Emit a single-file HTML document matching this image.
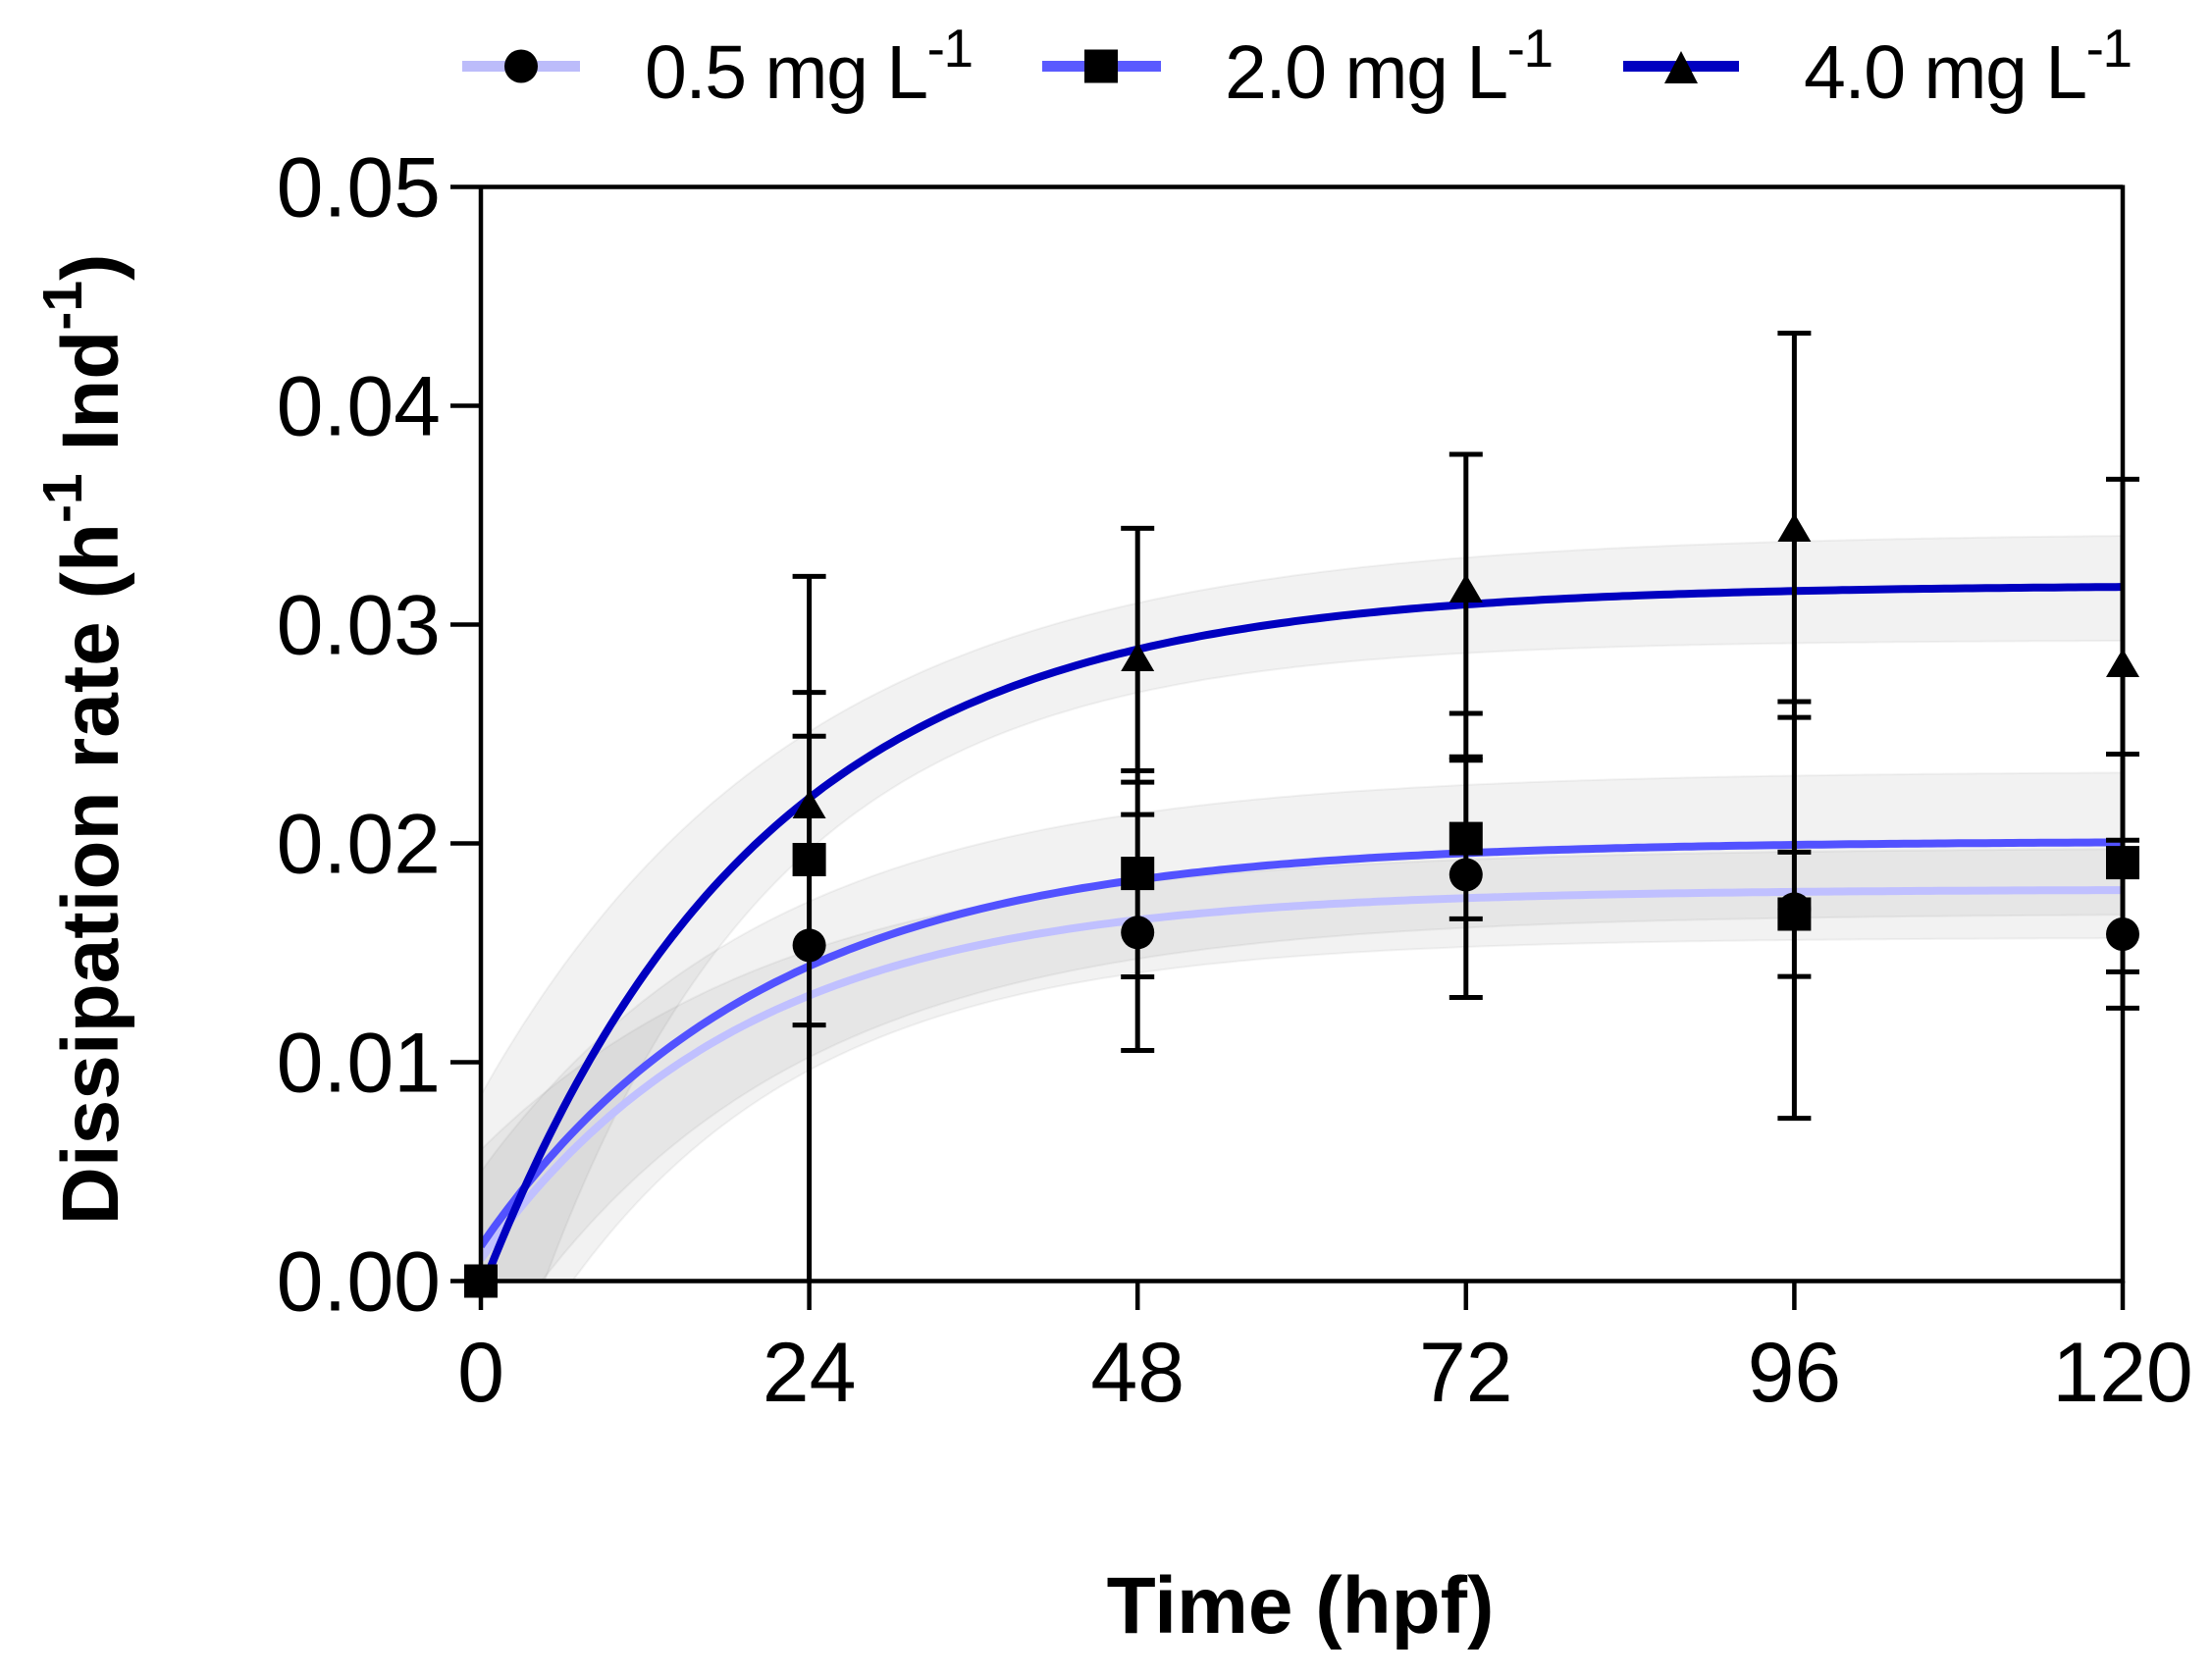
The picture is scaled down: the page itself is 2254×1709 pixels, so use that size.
<!DOCTYPE html>
<html>
<head>
<meta charset="utf-8">
<style>
  html, body { margin: 0; padding: 0; background: #ffffff; }
  svg { display: block; }
  text { font-family: "Liberation Sans", Arial, sans-serif; fill: #000; }
</style>
</head>
<body>
<svg id="chart" width="2254" height="1709" viewBox="0 0 2254 1709" xmlns="http://www.w3.org/2000/svg">
  <defs>
    <clipPath id="plotclip"><rect x="490" y="190" width="1673" height="1116"/></clipPath>
  </defs>
  <rect x="0" y="0" width="2254" height="1709" fill="#ffffff"/>

  <!-- bands and curves (generated) -->
  <g clip-path="url(#plotclip)">
    <path id="b05" fill="rgba(130,130,130,0.1)" stroke="rgba(120,120,120,0.09)" stroke-width="2"/>
    <path id="b20" fill="rgba(130,130,130,0.1)" stroke="rgba(120,120,120,0.09)" stroke-width="2"/>
    <path id="b40" fill="rgba(130,130,130,0.1)" stroke="rgba(120,120,120,0.09)" stroke-width="2"/>
    <path id="c05" fill="none" stroke="#c0c0ff" stroke-width="8"/>
    <path id="c20" fill="none" stroke="#5252ff" stroke-width="8"/>
    <path id="c40" fill="none" stroke="#0000c0" stroke-width="8"/>
  </g>

  <!-- axes frame -->
  <g stroke="#000" stroke-width="4.5" fill="none">
    <line x1="490" y1="190.5" x2="2163" y2="190.5"/>
    <line x1="2163" y1="188.5" x2="2163" y2="1307.5"/>
    <line x1="490" y1="188.5" x2="490" y2="1307.5"/>
    <line x1="459" y1="1305.5" x2="2165" y2="1305.5"/>
    <!-- y ticks -->
    <line x1="459" y1="190.5" x2="490" y2="190.5"/>
    <line x1="459" y1="413.5" x2="490" y2="413.5"/>
    <line x1="459" y1="636.5" x2="490" y2="636.5"/>
    <line x1="459" y1="859.5" x2="490" y2="859.5"/>
    <line x1="459" y1="1082.5" x2="490" y2="1082.5"/>
    <!-- x ticks -->
    <line x1="490" y1="1305.5" x2="490" y2="1335"/>
    <line x1="824.6" y1="1305.5" x2="824.6" y2="1335"/>
    <line x1="1159.2" y1="1305.5" x2="1159.2" y2="1335"/>
    <line x1="1493.8" y1="1305.5" x2="1493.8" y2="1335"/>
    <line x1="1828.4" y1="1305.5" x2="1828.4" y2="1335"/>
    <line x1="2163" y1="1305.5" x2="2163" y2="1335"/>
  </g>

  <!-- error bars -->
  <g stroke="#000" stroke-width="5" fill="none">
    <!-- t=24 -->
    <line x1="824.6" y1="587.4" x2="824.6" y2="1305.5"/>
    <line x1="807.6" y1="587.4" x2="841.6" y2="587.4"/>
    <line x1="807.6" y1="705.6" x2="841.6" y2="705.6"/>
    <line x1="807.6" y1="750.2" x2="841.6" y2="750.2"/>
    <line x1="807.6" y1="1044.6" x2="841.6" y2="1044.6"/>
    <!-- t=48 -->
    <line x1="1159.2" y1="538.4" x2="1159.2" y2="1070.5"/>
    <line x1="1142.2" y1="538.4" x2="1176.2" y2="538.4"/>
    <line x1="1142.2" y1="785.5" x2="1176.2" y2="785.5"/>
    <line x1="1142.2" y1="797.1" x2="1176.2" y2="797.1"/>
    <line x1="1142.2" y1="830.1" x2="1176.2" y2="830.1"/>
    <line x1="1142.2" y1="995.5" x2="1176.2" y2="995.5"/>
    <line x1="1142.2" y1="1070.5" x2="1176.2" y2="1070.5"/>
    <!-- t=72 -->
    <line x1="1493.8" y1="463" x2="1493.8" y2="1016.5"/>
    <line x1="1476.8" y1="463" x2="1510.8" y2="463"/>
    <line x1="1476.8" y1="727" x2="1510.8" y2="727"/>
    <line x1="1476.8" y1="771.2" x2="1510.8" y2="771.2"/>
    <line x1="1476.8" y1="774.8" x2="1510.8" y2="774.8"/>
    <line x1="1476.8" y1="936.4" x2="1510.8" y2="936.4"/>
    <line x1="1476.8" y1="1016.5" x2="1510.8" y2="1016.5"/>
    <!-- t=96 -->
    <line x1="1828.4" y1="339.5" x2="1828.4" y2="1139.6"/>
    <line x1="1811.4" y1="339.5" x2="1845.4" y2="339.5"/>
    <line x1="1811.4" y1="715" x2="1845.4" y2="715"/>
    <line x1="1811.4" y1="731.1" x2="1845.4" y2="731.1"/>
    <line x1="1811.4" y1="868.4" x2="1845.4" y2="868.4"/>
    <line x1="1811.4" y1="995.1" x2="1845.4" y2="995.1"/>
    <line x1="1811.4" y1="1139.6" x2="1845.4" y2="1139.6"/>
    <!-- t=120 -->
    <line x1="2163" y1="488.4" x2="2163" y2="1027.4"/>
    <line x1="2146" y1="488.4" x2="2180" y2="488.4"/>
    <line x1="2146" y1="768.5" x2="2180" y2="768.5"/>
    <line x1="2146" y1="856.2" x2="2180" y2="856.2"/>
    <line x1="2146" y1="990.4" x2="2180" y2="990.4"/>
    <line x1="2146" y1="1027.4" x2="2180" y2="1027.4"/>
  </g>

  <!-- markers: triangles (4.0) -->
  <g fill="#000">
    <polygon points="490,1290.5 473,1319.5 507,1319.5"/>
    <polygon points="824.6,805 807.6,834 841.6,834"/>
    <polygon points="1159.2,655 1142.2,684 1176.2,684"/>
    <polygon points="1493.8,585 1476.8,614 1510.8,614"/>
    <polygon points="1828.4,523 1811.4,552 1845.4,552"/>
    <polygon points="2163,661 2146,690 2180,690"/>
  </g>
  <!-- circles (0.5) -->
  <g fill="#000">
    <circle cx="490" cy="1305.5" r="17"/>
    <circle cx="824.6" cy="963.4" r="17"/>
    <circle cx="1159.2" cy="950.3" r="17"/>
    <circle cx="1493.8" cy="891.4" r="17"/>
    <circle cx="1828.4" cy="926.4" r="17"/>
    <circle cx="2163" cy="952" r="17"/>
  </g>
  <!-- squares (2.0) -->
  <g fill="#000">
    <rect x="473" y="1288.5" width="34" height="34"/>
    <rect x="807.6" y="859" width="34" height="34"/>
    <rect x="1142.2" y="873.1" width="34" height="34"/>
    <rect x="1476.8" y="837.6" width="34" height="34"/>
    <rect x="1811.4" y="914.5" width="34" height="34"/>
    <rect x="2146" y="862.1" width="34" height="34"/>
  </g>

  <!-- y tick labels -->
  <g font-size="86" text-anchor="end">
    <text x="449" y="220.5">0.05</text>
    <text x="449" y="443.5">0.04</text>
    <text x="449" y="666.5">0.03</text>
    <text x="449" y="889.5">0.02</text>
    <text x="449" y="1112.5">0.01</text>
    <text x="449" y="1335.5">0.00</text>
  </g>

  <!-- x tick labels -->
  <g font-size="86" text-anchor="middle">
    <text x="490" y="1428">0</text>
    <text x="824.6" y="1428">24</text>
    <text x="1159.2" y="1428">48</text>
    <text x="1493.8" y="1428">72</text>
    <text x="1828.4" y="1428">96</text>
    <text x="2163" y="1428">120</text>
  </g>

  <!-- axis titles -->
  <text x="1325" y="1664" font-size="82" font-weight="bold" text-anchor="middle">Time (hpf)</text>
  <text transform="translate(120,753.5) rotate(-90)" font-size="82" font-weight="bold" text-anchor="middle">Dissipation rate (h<tspan font-size="57" dy="-37">-1</tspan><tspan dy="37"> Ind</tspan><tspan font-size="57" dy="-37">-1</tspan><tspan dy="37">)</tspan></text>

  <!-- legend -->
  <line x1="471" y1="67.5" x2="591" y2="67.5" stroke="#bcbcfa" stroke-width="11"/>
  <circle cx="531" cy="67.5" r="17" fill="#000"/>
  <text x="657" y="100" font-size="77" letter-spacing="-1.5">0.5 mg L<tspan font-size="55" dy="-32">-1</tspan></text>

  <line x1="1062" y1="67.5" x2="1183" y2="67.5" stroke="#5a5aff" stroke-width="11"/>
  <rect x="1105" y="50.5" width="34" height="34" fill="#000"/>
  <text x="1248" y="100" font-size="77" letter-spacing="-1.5">2.0 mg L<tspan font-size="55" dy="-32">-1</tspan></text>

  <line x1="1654" y1="67.5" x2="1772" y2="67.5" stroke="#0000c0" stroke-width="11"/>
  <polygon points="1713,52 1696,85 1730,85" fill="#000"/>
  <text x="1838" y="100" font-size="77" letter-spacing="-1.5">4.0 mg L<tspan font-size="55" dy="-32">-1</tspan></text>
</svg>

<script>
(function () {
  function X(t) { return 490 + t * 1673 / 120; }
  function Y(v) { return 1305.5 - 22300 * v; }
  function f(p, t) { return p[0] + (p[1] - p[0]) * (1 - Math.exp(-p[2] * t)); }
  function line(p) {
    var d = '';
    for (var t = 0; t <= 120.001; t += 0.5) {
      d += (t === 0 ? 'M' : 'L') + X(t).toFixed(1) + ',' + Y(f(p, t)).toFixed(1);
    }
    return d;
  }
  function band(u, l) {
    var d = '', t;
    for (t = 0; t <= 120.001; t += 0.5) {
      d += (t === 0 ? 'M' : 'L') + X(t).toFixed(1) + ',' + Y(f(u, t)).toFixed(1);
    }
    for (t = 120; t >= -0.001; t -= 0.5) {
      d += 'L' + X(t).toFixed(1) + ',' + Y(f(l, t)).toFixed(1);
    }
    return d + 'Z';
  }
  document.getElementById('c05').setAttribute('d', line([0.001, 0.0179, 0.052]));
  document.getElementById('c20').setAttribute('d', line([0.0016, 0.0201, 0.049]));
  document.getElementById('c40').setAttribute('d', line([-0.0005, 0.0318, 0.05]));
  document.getElementById('b05').setAttribute('d', band([0.006, 0.0198, 0.045], [-0.007, 0.0157, 0.055]));
  document.getElementById('b20').setAttribute('d', band([0.005, 0.0233, 0.0468], [-0.004, 0.0168, 0.048]));
  document.getElementById('b40').setAttribute('d', band([0.0085, 0.0342, 0.0433], [-0.009, 0.0293, 0.0576]));
})();
</script>
</body>
</html>
